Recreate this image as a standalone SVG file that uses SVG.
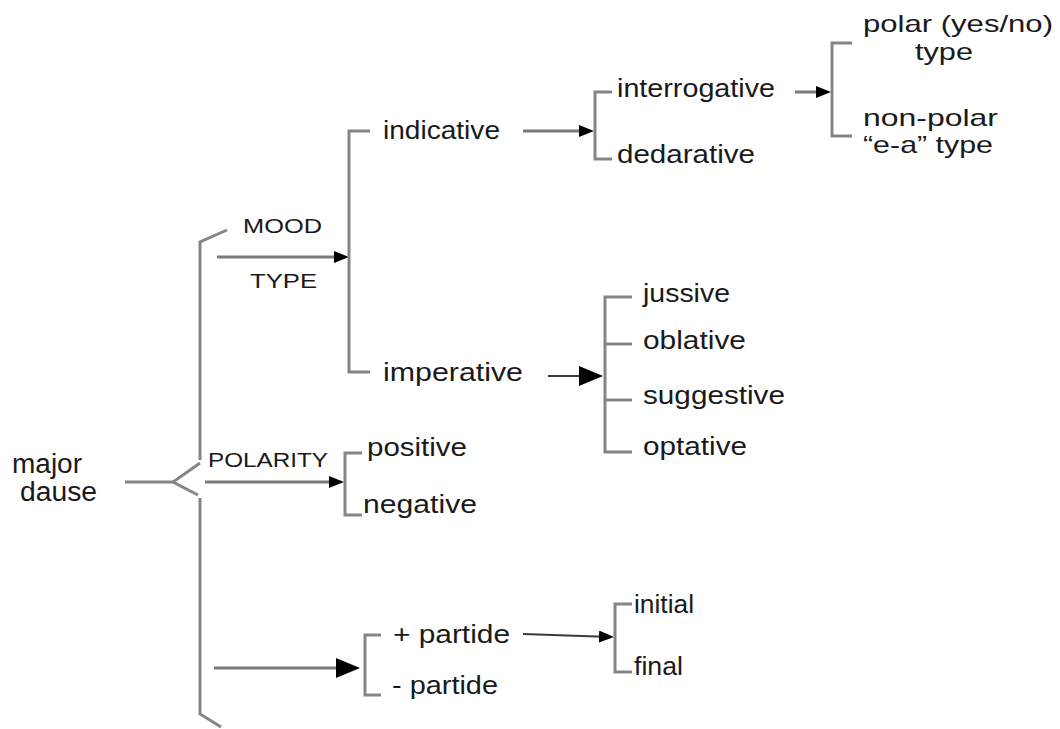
<svg xmlns="http://www.w3.org/2000/svg" width="1060" height="729" viewBox="0 0 1060 729">
  <style>
    .br { fill: none; stroke: #858585; stroke-width: 3; stroke-linejoin: miter; }
    .ln { fill: none; stroke: #7a7a7a; stroke-width: 3; }
    .ln2 { fill: none; stroke: #3a3a3a; stroke-width: 2; }
    text { font-family: "Liberation Sans", Arial, sans-serif; fill: #1a1a1a; }
    .t { font-size: 26px; }
    .s { font-size: 24px; }
    .big { font-size: 27px; }
    .cap { font-size: 21px; }
  </style>
  <defs>
    <marker id="ah" markerUnits="userSpaceOnUse" markerWidth="16" markerHeight="12" refX="5" refY="6" orient="auto">
      <path d="M0,0 L15,6 L0,12 Z" fill="#000"/>
    </marker>
    <marker id="ahL" markerUnits="userSpaceOnUse" markerWidth="25" markerHeight="20" refX="14" refY="10" orient="auto">
      <path d="M0,0 L24,10 L0,20 Z" fill="#000"/>
    </marker>
  </defs>

  <!-- brackets and arrows -->
  <g id="connectors">
    <!-- main system brace -->
    <path class="br" d="M227,230 L200,242 V460"/>
    <path class="br" d="M200,463 L173,482 L198,495"/>
    <path class="br" d="M200,498 V714 L221,727"/>
    <path class="br" d="M125,482 H173"/>

    <!-- MOOD TYPE -->
    <line class="ln" x1="217" y1="257" x2="339" y2="257" marker-end="url(#ah)"/>
    <path class="br" d="M370,131 H349 V372 H370"/>

    <!-- indicative -->
    <line class="ln" x1="523" y1="131" x2="584" y2="131" marker-end="url(#ah)"/>
    <path class="br" d="M612,92 H595 V159 H612"/>

    <!-- interrogative -->
    <line class="ln" x1="795" y1="92" x2="821" y2="92" marker-end="url(#ah)"/>
    <path class="br" d="M852,43 H832 V136 H852"/>

    <!-- imperative -->
    <line class="ln2" x1="548" y1="376" x2="593" y2="376" marker-end="url(#ahL)"/>
    <path class="br" d="M632,297 H605 V452 H632 M605,344 H632 M605,400 H632"/>

    <!-- POLARITY -->
    <line class="ln" x1="205" y1="482" x2="334" y2="482" marker-end="url(#ah)"/>
    <path class="br" d="M362,453 H345 V515 H362"/>

    <!-- particle -->
    <line class="ln" x1="214" y1="668" x2="350" y2="668" marker-end="url(#ahL)"/>
    <path class="br" d="M381,635 H365 V695 H381"/>

    <!-- + particle -->
    <line class="ln2" x1="523" y1="634" x2="604" y2="636.7" marker-end="url(#ah)"/>
    <path class="br" d="M632,604 H615 V672 H632"/>
  </g>

  <g id="major-clause">
    <text class="big" x="12" y="473" textLength="70" lengthAdjust="spacingAndGlyphs">major</text>
    <text class="big" x="20" y="501" textLength="77" lengthAdjust="spacingAndGlyphs">dause</text>
  </g>
  <g id="mood-type">
    <text class="cap" x="243" y="233" textLength="79" lengthAdjust="spacingAndGlyphs">MOOD</text>
    <text class="cap" x="250" y="288" textLength="67" lengthAdjust="spacingAndGlyphs">TYPE</text>
  </g>
  <g id="polarity">
    <text class="cap" x="208" y="467" textLength="120" lengthAdjust="spacingAndGlyphs">POLARITY</text>
  </g>
  <g id="indicative">
    <text class="t" x="383" y="139" textLength="117" lengthAdjust="spacingAndGlyphs">indicative</text>
  </g>
  <g id="interrogative">
    <text class="t" x="617" y="97" textLength="158" lengthAdjust="spacingAndGlyphs">interrogative</text>
  </g>
  <g id="declarative">
    <text class="t" x="617" y="163" textLength="138" lengthAdjust="spacingAndGlyphs">dedarative</text>
  </g>
  <g id="polar-type">
    <text class="s" x="863" y="32" textLength="190" lengthAdjust="spacingAndGlyphs">polar (yes/no)</text>
    <text class="s" x="915" y="60" textLength="58" lengthAdjust="spacingAndGlyphs">type</text>
  </g>
  <g id="non-polar-type">
    <text class="s" x="863" y="126" textLength="135" lengthAdjust="spacingAndGlyphs">non-polar</text>
    <text class="s" x="863" y="153" textLength="130" lengthAdjust="spacingAndGlyphs">“e-a” type</text>
  </g>
  <g id="imperative">
    <text class="t" x="383" y="381" textLength="140" lengthAdjust="spacingAndGlyphs">imperative</text>
  </g>
  <g id="jussive">
    <text class="t" x="643" y="302" textLength="87" lengthAdjust="spacingAndGlyphs">jussive</text>
  </g>
  <g id="oblative">
    <text class="t" x="643" y="349" textLength="103" lengthAdjust="spacingAndGlyphs">oblative</text>
  </g>
  <g id="suggestive">
    <text class="t" x="643" y="404" textLength="142" lengthAdjust="spacingAndGlyphs">suggestive</text>
  </g>
  <g id="optative">
    <text class="t" x="643" y="455" textLength="104" lengthAdjust="spacingAndGlyphs">optative</text>
  </g>
  <g id="positive">
    <text class="t" x="367" y="456" textLength="100" lengthAdjust="spacingAndGlyphs">positive</text>
  </g>
  <g id="negative">
    <text class="t" x="363" y="513" textLength="114" lengthAdjust="spacingAndGlyphs">negative</text>
  </g>
  <g id="plus-particle">
    <text class="t" x="393" y="643" textLength="117" lengthAdjust="spacingAndGlyphs">+ partide</text>
  </g>
  <g id="minus-particle">
    <text class="t" x="392" y="694" textLength="106" lengthAdjust="spacingAndGlyphs">- partide</text>
  </g>
  <g id="initial">
    <text class="t" x="634" y="613" textLength="60" lengthAdjust="spacingAndGlyphs">initial</text>
  </g>
  <g id="final">
    <text class="t" x="634" y="675" textLength="49" lengthAdjust="spacingAndGlyphs">final</text>
  </g>
</svg>
